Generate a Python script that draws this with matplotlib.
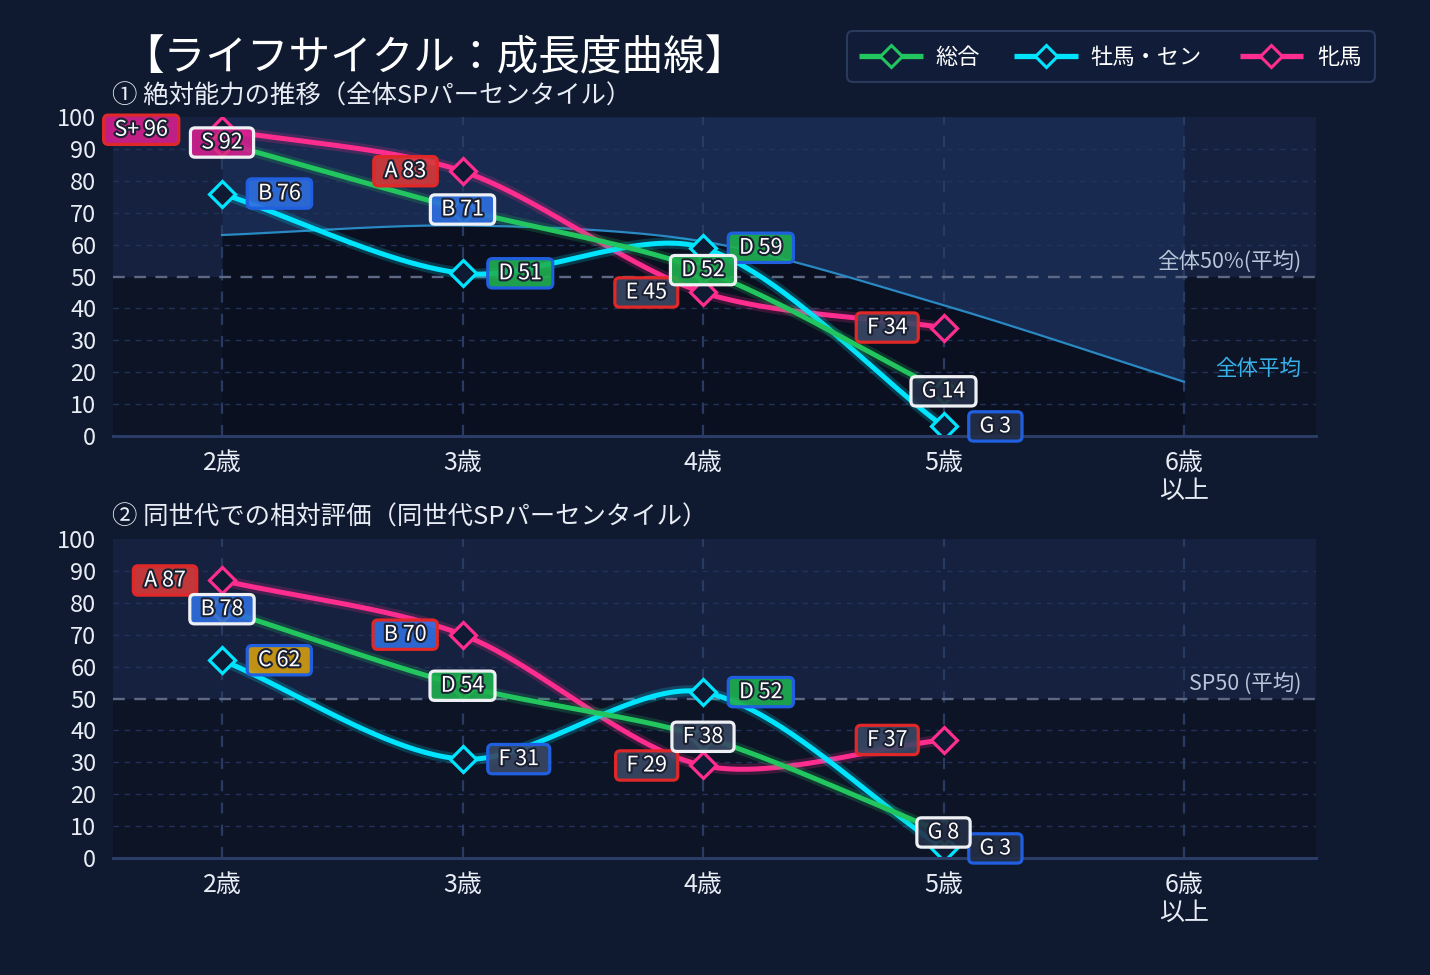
import numpy as np
import matplotlib
matplotlib.use('Agg')
import matplotlib.pyplot as plt
import matplotlib.patheffects as pe
from matplotlib.patches import FancyBboxPatch, BoxStyle
from matplotlib.transforms import blended_transform_factory

plt.rcParams['font.family'] = ['Noto Sans CJK JP', 'DejaVu Sans']

# ---------------- data ----------------
ages = ['2歳', '3歳', '4歳', '5歳', '6歳\n以上']
series_names = ['総合', '牡馬・セン', '牝馬']

abs_total = [92, 71, 52, 14]
abs_male = [76, 51, 59, 3]
abs_female = [96, 83, 45, 34]
abs_total_grade = ['S', 'B', 'D', 'G']
abs_male_grade = ['B', 'D', 'D', 'G']
abs_female_grade = ['S+', 'A', 'E', 'F']
overall_avg = [63, 66, 61, 41, 17]

rel_total = [78, 54, 38, 8]
rel_male = [62, 31, 52, 3]
rel_female = [87, 70, 29, 37]
rel_total_grade = ['B', 'D', 'F', 'G']
rel_male_grade = ['C', 'F', 'D', 'G']
rel_female_grade = ['A', 'B', 'F', 'F']

title = '【ライフサイクル：成長度曲線】'
subtitle1 = '① 絶対能力の推移（全体SPパーセンタイル）'
subtitle2 = '② 同世代での相対評価（同世代SPパーセンタイル）'

# ---------------- style ----------------
W, H = 1430, 975
BG = '#0f1a30'
C_UP = '#15213f'
C_LOW = '#0c1426'
C_FILL_UP = '#182a50'
C_FILL_LOW = '#0a1020'
GREEN = '#22c55e'
CYAN = '#00e5ff'
PINK = '#ff2d8e'
GOLD = '#f5b800'
MFACE = '#0f1a33'
TXT = '#e8ecf4'
TENSION = 0.3

grade_fc = {'S+': '#d41f8f', 'S': '#d41f8f', 'A': '#d63a3a', 'B': '#2f6fe0',
            'C': '#d49e10', 'D': '#20b050', 'E': '#3a4864', 'F': '#3a4864',
            'G': '#242f47'}
EDGE = {'total': '#eef0f4', 'male': '#2060e0', 'female': '#e02828'}

SX = 240.5   # px per x-unit
SY = 3.19    # px per y-unit


class PadRound:
    def __init__(self, padx, pady, r):
        self.padx, self.pady, self.r = padx, pady, r
        self._round = BoxStyle.Round(pad=0, rounding_size=r)

    def __call__(self, x0, y0, width, height, mutation_size):
        px = self.padx * mutation_size
        py = self.pady * mutation_size
        return self._round(x0 - px, y0 - py, width + 2 * px, height + 2 * py,
                           mutation_size)


def bez_points(xv, yv, t=TENSION, n=50):
    P = np.column_stack([np.asarray(xv, float) * SX, np.asarray(yv, float) * SY])
    m = len(P)
    cpp = np.zeros_like(P)
    cpn = np.zeros_like(P)
    for i in range(m):
        prev = P[max(i - 1, 0)]
        nxt = P[min(i + 1, m - 1)]
        d01 = np.hypot(*(P[i] - prev))
        d12 = np.hypot(*(nxt - P[i]))
        tot = d01 + d12
        s01 = d01 / tot if tot else 0
        s12 = d12 / tot if tot else 0
        cpp[i] = P[i] - t * s01 * (nxt - prev)
        cpn[i] = P[i] + t * s12 * (nxt - prev)
    cpp[:, 1] = np.clip(cpp[:, 1], 0, 100 * SY)
    cpn[:, 1] = np.clip(cpn[:, 1], 0, 100 * SY)
    tt = np.linspace(0, 1, n)[:, None]
    pts = []
    for i in range(m - 1):
        p0, p1, p2, p3 = P[i], cpn[i], cpp[i + 1], P[i + 1]
        seg = ((1 - tt) ** 3) * p0 + 3 * ((1 - tt) ** 2) * tt * p1 \
            + 3 * (1 - tt) * (tt ** 2) * p2 + (tt ** 3) * p3
        pts.append(seg if i == 0 else seg[1:])
    pts = np.vstack(pts)
    return pts[:, 0] / SX, pts[:, 1] / SY


fig = plt.figure(figsize=(W / 100, H / 100), dpi=100)
fig.patch.set_facecolor(BG)

over = fig.add_axes([0, 0, 1, 1], zorder=0)
over.set_xlim(0, W)
over.set_ylim(H, 0)
over.axis('off')
over.patch.set_alpha(0)

# title & subtitles
over.text(122, 59, title, fontsize=30, color='white', ha='left', va='center')
over.text(112, 97, subtitle1, fontsize=18.3, color=TXT, ha='left', va='center')
over.text(112, 518, subtitle2, fontsize=18.3, color=TXT, ha='left', va='center')

# legend
leg = FancyBboxPatch((847, 31), 528, 51, boxstyle='round,pad=0,rounding_size=6',
                     fc='#111d38', ec='#2a3a5e', lw=1.5, zorder=1)
over.add_patch(leg)
leg_items = [(series_names[0], GREEN, 859, 923, 891, 935),
             (series_names[1], CYAN, 1014, 1078, 1046, 1090),
             (series_names[2], PINK, 1240, 1303, 1271, 1317)]
for name, col, x0, x1, xm, xt in leg_items:
    over.plot([x0, x1], [56, 56], color=col, lw=3.8, zorder=2, solid_capstyle='butt')
    over.plot([xm], [56], ls='none', marker='D', ms=11, mfc='#111d38', mec=col,
              mew=2.2, zorder=3)
    over.text(xt, 57, name, fontsize=16, color='white', ha='left', va='center',
              zorder=3)

stroke = [pe.withStroke(linewidth=3, foreground='#1b2132')]
box_style = PadRound(0.5, 0.17, 0.22)


def add_label(ax, x, y, grade, val, edge, ha, dx_px):
    txt = f'{grade} {val}'
    fc = matplotlib.colors.to_rgba(grade_fc[grade], 0.9)
    ax.annotate(txt, (x, y), xytext=(dx_px * 0.72, 0), textcoords='offset points',
                ha=ha, va='center', fontsize=15.5, color='white', zorder=8,
                annotation_clip=False, path_effects=stroke,
                bbox=dict(boxstyle=box_style, fc=fc, ec=edge, lw=2.3))


def make_chart(top_px, total, male, female, tg, mg, fg, avg=None, ref_text=''):
    ax = fig.add_axes([113 / W, 1 - (top_px + 319) / H, 1203 / W, 319 / H], zorder=2)
    ax.set_facecolor('none')
    ax.set_xlim(-109 / SX, 4 + 132 / SX)
    ax.set_ylim(0, 100)
    for s in ax.spines.values():
        s.set_visible(False)
    ax.axhspan(50, 100, color=C_UP, zorder=0, lw=0)
    ax.axhspan(0, 50, color=C_LOW, zorder=0, lw=0)

    xs4 = np.arange(len(total))
    tr = blended_transform_factory(ax.transAxes, ax.transData)

    if avg is not None:
        ax_x, ax_y = bez_points(np.arange(len(avg)), avg)
        ax.fill_between(ax_x, ax_y, 100, color=C_FILL_UP, zorder=0.5, lw=0)
        ax.fill_between(ax_x, 0, ax_y, color=C_FILL_LOW, zorder=0.5, lw=0)

    for v in range(10, 100, 10):
        if v != 50:
            ax.axhline(v, color='#22325a', lw=1, ls=(0, (4, 4)), zorder=1)
    for i in range(len(ages)):
        ax.axvline(i, color='#2a3b62', lw=1.6, ls=(0, (5, 5)), zorder=1)
    ax.axhline(50, color='#5d6984', lw=1.7, ls=(0, (5, 4)), zorder=1.5)

    if avg is not None:
        ax.plot(ax_x, ax_y, color='#2a88c2', lw=1.6, zorder=2)
        ax.text(0.988, 21, '全体平均', transform=tr, ha='right', va='center',
                fontsize=15.5, color='#38b0e8', zorder=2)
    ax.text(0.988, 54.7, ref_text, transform=tr, ha='right', va='center',
            fontsize=15.5, color='#b8c4d8', zorder=2)

    series = [(female, PINK, 3.0), (male, CYAN, 3.5), (total, GREEN, 4.0)]
    for vals, col, z in series:
        bx, by = bez_points(xs4, vals)
        ax.plot(bx, by, color=col, lw=8, alpha=0.2, zorder=z, solid_capstyle='round')
        ax.plot(bx, by, color=col, lw=3.6, zorder=z + 0.1, solid_capstyle='round')

    # markers
    ax.plot(xs4, female, ls='none', marker='D', ms=13.5, mfc=MFACE, mec=PINK,
            mew=2.3, zorder=5)
    ax.plot(xs4, male, ls='none', marker='D', ms=13.5, mfc=MFACE, mec=CYAN,
            mew=2.3, zorder=5)
    peak = int(np.argmax(total))
    for i, v in enumerate(total):
        ax.plot([i], [v], ls='none', marker='D', ms=13.5, mfc=MFACE,
                mec=GOLD if i == peak else GREEN, mew=2.3, zorder=5)

    # labels
    for i in range(len(total)):
        dx = -36
        if abs(female[i] - total[i]) < 5:
            dx -= 18
        add_label(ax, i, female[i], fg[i], female[i], EDGE['female'], 'right', dx)
    for i in range(len(total)):
        add_label(ax, i, male[i], mg[i], male[i], EDGE['male'], 'left', 36)
    for i in range(len(total)):
        add_label(ax, i, total[i], tg[i], total[i], EDGE['total'], 'center', 0)

    ax.axhline(0, color='#2b3c66', lw=2.2, zorder=7, clip_on=False)
    ax.set_yticks(range(0, 101, 10))
    ax.set_xticks(range(len(ages)))
    ax.set_xticklabels(ages, linespacing=1.1)
    ax.tick_params(axis='y', length=0, pad=12, labelsize=17, labelcolor=TXT)
    ax.tick_params(axis='x', length=0, pad=10, labelsize=18, labelcolor=TXT)
    ax.grid(False)
    return ax


make_chart(117, abs_total, abs_male, abs_female, abs_total_grade, abs_male_grade,
           abs_female_grade, avg=overall_avg, ref_text='全体50%(平均)')
make_chart(539, rel_total, rel_male, rel_female, rel_total_grade, rel_male_grade,
           rel_female_grade, avg=None, ref_text='SP50 (平均)')

fig.savefig('out.png', dpi=100, facecolor=BG)
